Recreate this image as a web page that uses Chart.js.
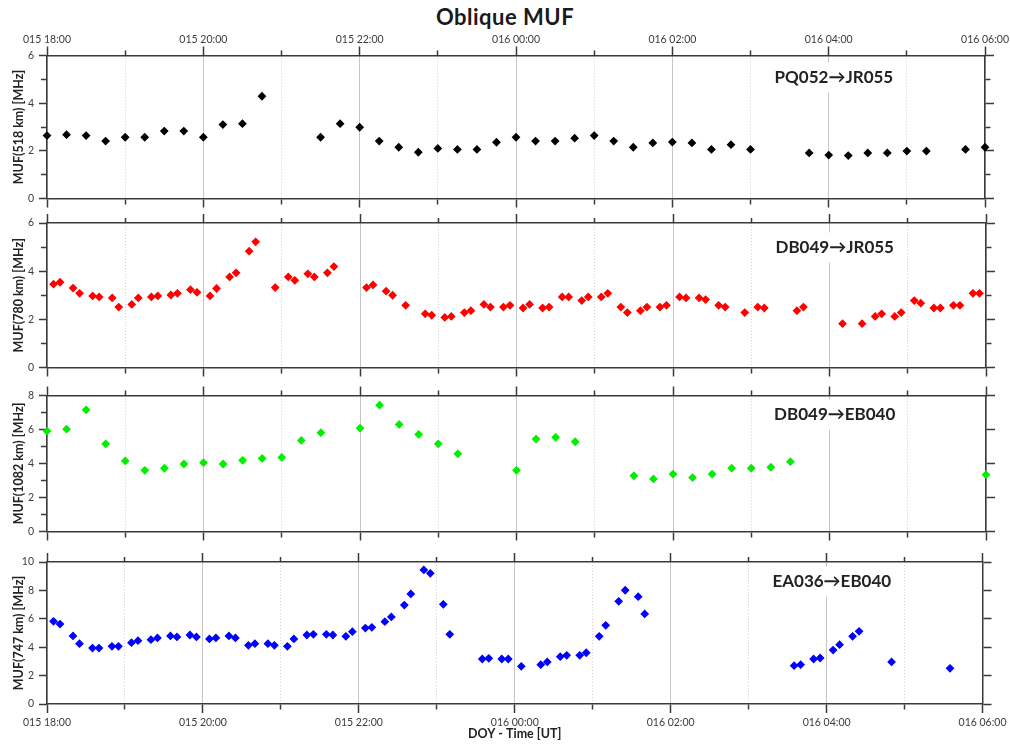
<!DOCTYPE html>
<html>
<head>
<meta charset="utf-8">
<title>Oblique MUF</title>
<script src="https://cdn.jsdelivr.net/npm/chart.js@4.4.1/dist/chart.umd.min.js"></script>
<style>
  html, body { margin: 0; padding: 0; background: #fff; }
  #wrap { position: relative; width: 1010px; height: 744px; overflow: hidden; }
  #title { position: absolute; left: 0; top: 5px; width: 1010px; text-align: center;
           font: bold 22px Lato, "Open Sans", sans-serif; line-height: 24px; color: #1a1a1a;
           letter-spacing: 0.5px; }
  .panel { position: absolute; left: 0; }
  .panel canvas { display: block; }
</style>
</head>
<body>
<div id="wrap">
  <div id="title">Oblique MUF</div>
</div>
<script>
// ---- Data: time in minutes after DOY 015 18:00 UT, MUF in MHz ----
const timeTickLabels = ['015 18:00', '015 20:00', '015 22:00', '016 00:00', '016 02:00', '016 04:00', '016 06:00'];

const routeNames = ['PQ052→JR055', 'DB049→JR055', 'DB049→EB040', 'EA036→EB040'];
const routeDistances = ['518 km', '780 km', '1082 km', '747 km'];
const routeColors = ['#000000', '#ff0000', '#00ee00', '#0000ff'];
const routeMaxMuf = [6, 6, 8, 10];

const minPQ052 = [0, 15, 30, 45, 60, 75, 90, 105, 120, 135, 150, 165,
  210, 225, 240, 255, 270, 285, 300, 315, 330, 345, 360, 375, 390, 405, 420, 435, 450, 465, 480, 495, 510, 525, 540,
  585, 600, 615, 630, 645, 660, 675, 705, 720];
const mufPQ052 = [2.64, 2.68, 2.64, 2.41, 2.57, 2.57, 2.83, 2.83, 2.57, 3.10, 3.14, 4.29,
  2.57, 3.14, 2.99, 2.41, 2.15, 1.94, 2.10, 2.06, 2.06, 2.36, 2.57, 2.41, 2.41, 2.53, 2.64, 2.41, 2.15, 2.33, 2.37, 2.33, 2.06, 2.26, 2.06,
  1.91, 1.82, 1.80, 1.91, 1.91, 1.99, 1.99, 2.06, 2.15];

const minDB049JR = [5, 10, 20, 25, 35, 40, 50, 55,
  65, 70, 80, 85, 95, 100, 110, 115,
  125, 130, 140, 145, 155, 160, 175,
  185, 190, 200, 205, 215, 220,
  245, 250, 260, 265, 275, 290, 295,
  305, 310, 320, 325, 335, 340, 350, 355,
  365, 370, 380, 385, 395, 400, 410, 415,
  425, 430, 440, 445, 455, 460, 470, 475,
  485, 490, 500, 505, 515, 520, 535,
  545, 550, 575, 580,
  610, 625, 635, 640, 650, 655,
  665, 670, 680, 685, 695, 700, 710, 715];
const mufDB049JR = [3.46, 3.54, 3.30, 3.08, 2.97, 2.93, 2.89, 2.51,
  2.62, 2.89, 2.93, 2.97, 3.01, 3.08, 3.23, 3.12,
  2.97, 3.28, 3.76, 3.93, 4.83, 5.22, 3.32,
  3.76, 3.62, 3.89, 3.76, 3.93, 4.19,
  3.32, 3.43, 3.17, 3.00, 2.58, 2.23, 2.17,
  2.08, 2.12, 2.28, 2.36, 2.62, 2.51, 2.51, 2.58,
  2.47, 2.62, 2.47, 2.51, 2.93, 2.93, 2.78, 2.93,
  2.93, 3.08, 2.51, 2.28, 2.36, 2.51, 2.51, 2.58,
  2.93, 2.89, 2.89, 2.82, 2.58, 2.51, 2.28,
  2.51, 2.47, 2.36, 2.51,
  1.82, 1.82, 2.12, 2.23, 2.12, 2.28,
  2.78, 2.67, 2.47, 2.47, 2.58, 2.58, 3.08, 3.08];

const minDB049EB = [0, 15, 30, 45, 60, 75, 90, 105, 120, 135, 150, 165, 180, 195, 210,
  240, 255, 270, 285, 300, 315,
  360, 375, 390, 405,
  450, 465, 480, 495, 510, 525, 540, 555, 570,
  720];
const mufDB049EB = [5.91, 6.02, 7.16, 5.16, 4.15, 3.60, 3.72, 3.97, 4.05, 3.97, 4.19, 4.30, 4.36, 5.36, 5.81,
  6.08, 7.43, 6.30, 5.71, 5.16, 4.57,
  3.60, 5.44, 5.54, 5.28,
  3.28, 3.09, 3.38, 3.17, 3.38, 3.72, 3.72, 3.78, 4.11,
  3.34];

const minEA036EB = [5, 10, 20, 25, 35, 40, 50, 55,
  65, 70, 80, 85, 95, 100, 110, 115,
  125, 130, 140, 145, 155, 160, 170, 175,
  185, 190, 200, 205, 215, 220, 230, 235,
  245, 250, 260, 265, 275, 280, 290, 295,
  305, 310,
  335, 340, 350, 355,
  365, 380, 385, 395, 400, 410, 415,
  425, 430, 440, 445, 455, 460,
  575, 580, 590, 595, 605, 610, 620, 625,
  650, 695];
const mufEA036EB = [5.82, 5.63, 4.79, 4.25, 3.94, 3.94, 4.06, 4.06,
  4.32, 4.46, 4.53, 4.65, 4.79, 4.72, 4.86, 4.72,
  4.58, 4.65, 4.79, 4.65, 4.13, 4.25, 4.25, 4.13,
  4.06, 4.58, 4.86, 4.91, 4.91, 4.86, 4.77, 5.09,
  5.35, 5.40, 5.80, 6.13, 6.97, 7.75, 9.44, 9.20,
  7.02, 4.91,
  3.17, 3.22, 3.17, 3.17,
  2.65, 2.77, 2.96, 3.33, 3.43, 3.43, 3.61,
  4.77, 5.54, 7.23, 8.01, 7.56, 6.34,
  2.70, 2.77, 3.17, 3.24, 3.80, 4.18, 4.77, 5.12,
  2.96, 2.51];

const routeTimes = [minPQ052, minDB049JR, minDB049EB, minEA036EB];
const routeMuf = [mufPQ052, mufDB049JR, mufDB049EB, mufEA036EB];

// ---- Layout of the four stacked panels (page pixels) ----
const panelBoxes = [
  { canvasTop: 24,  plotTop: 55.5,  plotBottom: 198.5, canvasBottom: 210, labelDy: 22 },
  { canvasTop: 210, plotTop: 223,   plotBottom: 367.5, canvasBottom: 381, labelDy: 24.5 },
  { canvasTop: 381, plotTop: 395.5, plotBottom: 531.5, canvasBottom: 546, labelDy: 19 },
  { canvasTop: 546, plotTop: 562,   plotBottom: 704,   canvasBottom: 744, labelDy: 19.5 }
];
const PAGE_W = 1010;
const PLOT_LEFT = 47;
const PLOT_RIGHT = 986;
const SPAN_MIN = 720;

const FONT = 'Lato, "Open Sans", sans-serif';
const AXIS_COLOR = '#3a3a3a';
const TEXT_COLOR = '#3c3c3c';

const hourValues = [];
for (let m = 0; m <= SPAN_MIN; m += 60) hourValues.push(m);

const isMajorHour = v => v % 120 === 0;

// Route name drawn inside the plot on a white box, above the grid, under the points
const routeLabel = {
  id: 'routeLabel',
  beforeDatasetsDraw(chart, args, opts) {
    const { ctx, chartArea, scales } = chart;
    const x = scales.x.getPixelForValue(opts.at);
    const y = chartArea.top + opts.dy;
    ctx.save();
    ctx.font = 'bold 17px ' + FONT;
    const w = ctx.measureText(opts.text).width;
    ctx.fillStyle = '#ffffff';
    ctx.fillRect(x - w / 2 - 6, y - 15, w + 12, 30);
    ctx.fillStyle = '#222222';
    ctx.textAlign = 'center';
    ctx.textBaseline = 'middle';
    ctx.fillText(opts.text, x, y);
    ctx.restore();
  }
};

function buildPanel(i) {
  const box = panelBoxes[i];
  const isFirst = i === 0;
  const isLast = i === panelBoxes.length - 1;
  const h = box.canvasBottom - box.canvasTop;
  const topH = box.plotTop - box.canvasTop;
  const botH = box.canvasBottom - box.plotBottom;

  const div = document.createElement('div');
  div.className = 'panel';
  div.style.top = box.canvasTop + 'px';
  const cv = document.createElement('canvas');
  cv.width = PAGE_W;
  cv.height = h;
  cv.style.width = PAGE_W + 'px';
  cv.style.height = h + 'px';
  div.appendChild(cv);
  document.getElementById('wrap').appendChild(div);

  const yMax = routeMaxMuf[i];
  const yValues = [];
  for (let v = 0; v <= yMax; v++) yValues.push(v);

  const points = routeTimes[i].map((t, k) => ({ x: t, y: routeMuf[i][k] }));

  const hourTickLabel = v => isMajorHour(v) ? timeTickLabels[v / 120] : '';
  const tickFont = { family: FONT, size: 10.5 };

  new Chart(cv, {
    type: 'scatter',
    data: {
      datasets: [{
        label: routeNames[i],
        data: points,
        pointStyle: 'rectRot',
        pointRadius: 3.4,
        pointHoverRadius: 3.4,
        borderWidth: 1.4,
        backgroundColor: routeColors[i],
        borderColor: routeColors[i],
        showLine: false,
        clip: false
      }]
    },
    options: {
      responsive: false,
      animation: false,
      devicePixelRatio: 1,
      layout: { padding: 0 },
      events: [],
      plugins: {
        legend: { display: false },
        title: { display: false },
        tooltip: { enabled: false },
        routeLabel: { text: routeNames[i], at: 604, dy: box.labelDy }
      },
      scales: {
        x: {
          type: 'linear', position: 'bottom', min: 0, max: SPAN_MIN,
          afterBuildTicks: s => { s.ticks = hourValues.map(v => ({ value: v })); },
          afterFit: s => { s.height = botH; },
          grid: {
            drawOnChartArea: true, drawTicks: true, tickLength: 9,
            color: c => (c.tick && isMajorHour(c.tick.value)) ? '#c6c6c6' : '#d2d2d2',
            lineWidth: 1,
            tickColor: AXIS_COLOR, tickWidth: 1.5,
            tickBorderDash: c => (c.tick && !isMajorHour(c.tick.value)) ? [5, 50] : []
          },
          border: {
            display: true, color: AXIS_COLOR, width: 1.5,
            dash: c => (c.tick && !isMajorHour(c.tick.value)) ? [1, 2] : []
          },
          ticks: {
            display: isLast, autoSkip: false, maxRotation: 0, padding: 3.5,
            color: TEXT_COLOR, font: tickFont,
            callback: v => hourTickLabel(v)
          },
          title: {
            display: isLast, text: 'DOY - Time [UT]', color: '#222',
            font: { family: FONT, size: 12.5, weight: 'bold' },
            padding: { top: 0, bottom: 2.5 }
          }
        },
        xt: {
          type: 'linear', position: 'top', min: 0, max: SPAN_MIN,
          afterBuildTicks: s => { s.ticks = hourValues.map(v => ({ value: v })); },
          afterFit: s => { s.height = topH; },
          grid: {
            drawOnChartArea: false, drawTicks: true, tickLength: 9,
            tickColor: AXIS_COLOR, tickWidth: 1.5,
            tickBorderDash: c => (c.tick && !isMajorHour(c.tick.value)) ? [0, 4, 5, 50] : []
          },
          border: { display: true, color: AXIS_COLOR, width: 1.5 },
          ticks: {
            display: isFirst, autoSkip: false, maxRotation: 0, padding: 1,
            color: TEXT_COLOR, font: tickFont,
            callback: v => hourTickLabel(v)
          }
        },
        y: {
          type: 'linear', position: 'left', min: 0, max: yMax,
          afterBuildTicks: s => { s.ticks = yValues.map(v => ({ value: v })); },
          afterFit: s => { s.width = PLOT_LEFT; },
          grid: {
            drawOnChartArea: false, drawTicks: true, tickLength: 8,
            tickColor: AXIS_COLOR, tickWidth: 1.5,
            tickBorderDash: c => (c.tick && c.tick.value % 2 !== 0) ? [0, 2, 6, 50] : []
          },
          border: { display: true, color: AXIS_COLOR, width: 1.5 },
          ticks: {
            padding: 5, color: TEXT_COLOR, font: tickFont,
            callback: v => (v % 2 === 0 ? String(v) : '')
          },
          title: {
            display: true, text: 'MUF(' + routeDistances[i] + ') [MHz]', color: '#222',
            font: { family: FONT, size: 12.5, weight: 'bold' },
            padding: { top: 11, bottom: 0 }
          }
        },
        yr: {
          type: 'linear', position: 'right', min: 0, max: yMax,
          afterBuildTicks: s => { s.ticks = yValues.map(v => ({ value: v })); },
          afterFit: s => { s.width = PAGE_W - PLOT_RIGHT; },
          grid: {
            drawOnChartArea: false, drawTicks: true, tickLength: 9,
            tickColor: AXIS_COLOR, tickWidth: 1.5,
            tickBorderDash: c => (c.tick && c.tick.value % 2 !== 0) ? [5, 50] : []
          },
          border: { display: true, color: AXIS_COLOR, width: 1.5 },
          ticks: { display: true, callback: () => '' }
        }
      }
    },
    plugins: [routeLabel]
  });
}

for (let i = 0; i < panelBoxes.length; i++) buildPanel(i);
</script>
</body>
</html>
